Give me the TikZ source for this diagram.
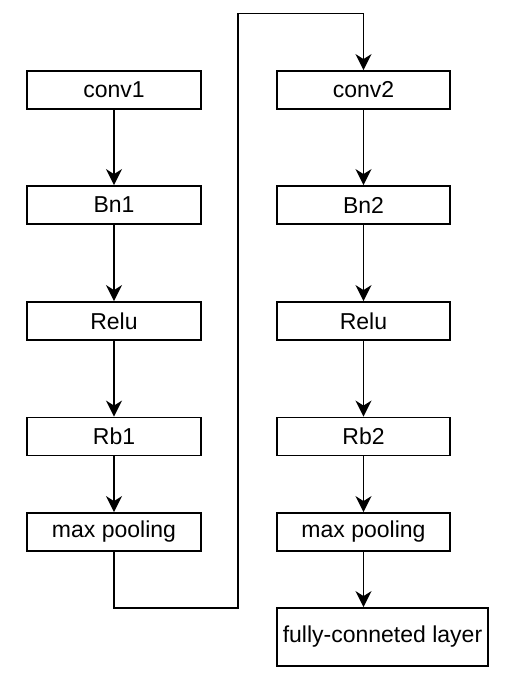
\documentclass[tikz,border=0pt]{standalone}
\usepackage{fontspec}
\setmainfont{Liberation Sans}
\usetikzlibrary{arrows.meta}
\begin{document}
\begin{tikzpicture}[x=1pt,y=-1pt,
  blk/.style={draw,line width=1.8pt,rectangle,minimum width=173.5pt,minimum height=38pt,inner sep=0pt,font=\fontsize{23}{26}\selectfont},
  conn/.style={line width=1.8pt,-{Stealth[length=16pt,width=16pt,inset=5pt]}},
  plain/.style={line width=1.8pt}]
\useasboundingbox (0,0) rectangle (508,690);
\node[blk] (c1) at (114,90) {conv1};
\node[blk] (b1) at (114,205) {Bn1};
\node[blk] (r1) at (114,321) {Relu};
\node[blk] (rb1) at (114,436.5) {Rb1};
\node[blk] (m1) at (114,532) {max pooling};
\node[blk] (c2) at (363.5,90) {conv2};
\node[blk] (b2) at (363.5,205) {Bn2};
\node[blk] (r2) at (363.5,321) {Relu};
\node[blk] (rb2) at (363.5,436.5) {Rb2};
\node[blk] (m2) at (363.5,532) {max pooling};
\node[blk,minimum width=211pt,minimum height=58pt] (fc) at (382.5,637) {fully-conneted layer};
\draw[conn] (c1) -- (b1);
\draw[conn] (b1) -- (r1);
\draw[conn] (r1) -- (rb1);
\draw[conn] (rb1) -- (m1);
\draw[conn] (c2) -- (b2);
\draw[conn] (b2) -- (r2);
\draw[conn] (r2) -- (rb2);
\draw[conn] (rb2) -- (m2);
\draw[conn] (m2.south) -- (m2.south |- fc.north);
\coordinate (p1) at (114,608);
\coordinate (p2) at (238,608);
\coordinate (p3) at (238,13.5);
\coordinate (p4) at (363.5,13.5);
\draw[conn] (m1.south) -- (p1) -- (p2) -- (p3) -- (p4) -- (c2.north);
\end{tikzpicture}
\end{document}
